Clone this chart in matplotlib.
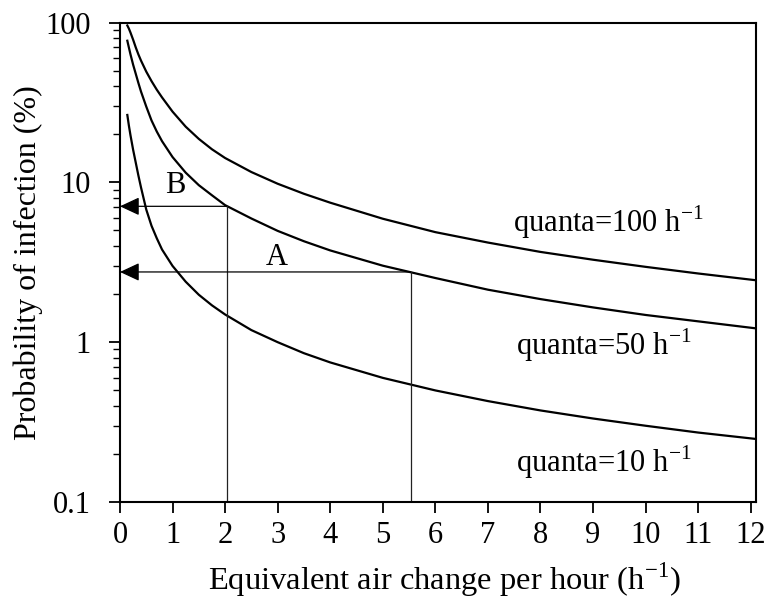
import matplotlib
matplotlib.use('Agg')
import matplotlib.pyplot as plt

plt.rcParams['font.family'] = ['Liberation Serif', 'DejaVu Serif']
plt.rcParams['mathtext.fontset'] = 'custom'
plt.rcParams['mathtext.rm'] = 'Liberation Serif'

# values (air change per hour vs infection %)
ach = [0.14, 0.17, 0.2, 0.25, 0.3, 0.35, 0.4, 0.5, 0.6, 0.7, 0.8, 1.0, 1.25,
       1.5, 1.75, 2, 2.5, 3, 3.5, 4, 5, 6, 7, 8, 9, 10, 11, 12.1]
p_q100 = [95.8, 91.5, 86.5, 78.1, 69.9, 63.2, 57.8, 49.3, 43.0, 38.0, 34.0,
          27.7, 22.3, 18.7, 16.1, 14.2, 11.6, 9.8, 8.48, 7.46, 5.92, 4.88,
          4.2, 3.67, 3.28, 2.96, 2.69, 2.44]
p_q50 = [76.9, 69.6, 63.2, 54.5, 47.8, 41.9, 37.0, 29.8, 24.4, 20.8, 18.1,
         14.4, 11.5, 9.6, 8.3, 7.2, 5.94, 4.97, 4.28, 3.75, 3.01, 2.52,
         2.13, 1.86, 1.65, 1.48, 1.35, 1.22]
p_q10 = [26.4, 22.6, 19.7, 16.0, 13.3, 11.05, 9.3, 6.76, 5.35, 4.47, 3.8,
         3.0, 2.39, 1.98, 1.70, 1.49, 1.19, 1.0, 0.853, 0.747, 0.598, 0.499,
         0.428, 0.374, 0.333, 0.30, 0.272, 0.248]

# reading examples A and B: (ach, probability)
case_a = (5.53, 2.75)
case_b = (2.03, 7.08)

fig = plt.figure(figsize=(7.72, 6.02), dpi=100)
ax = fig.add_axes([0.1554, 0.1661, 0.8239, 0.7965])

for p in (p_q100, p_q50, p_q10):
    ax.plot(ach, p, color='black', lw=1.6)

# guide lines with arrows to the y axis
for xv, yv in (case_a, case_b):
    ax.plot([xv, xv], [0.1, yv], color='#222222', lw=0.9)
    ax.annotate('', xy=(0, yv), xytext=(xv, yv),
                arrowprops=dict(arrowstyle='-|>,head_length=0.6,head_width=0.28',
                                mutation_scale=20, lw=0.9, color='black',
                                shrinkA=0, shrinkB=0))

ax.text(2.98, 3.41, 'A', fontsize=22, ha='center', va='center')
ax.text(1.05, 9.56, 'B', fontsize=22, ha='center', va='center')
ax.text(9.3, 5.6, 'quanta=100 h$^{\\mathrm{-1}}$', fontsize=22, ha='center', va='center')
ax.text(9.2, 0.96, 'quanta=50 h$^{\\mathrm{-1}}$', fontsize=22, ha='center', va='center')
ax.text(9.2, 0.178, 'quanta=10 h$^{\\mathrm{-1}}$', fontsize=22, ha='center', va='center')

ax.set_yscale('log')
ax.set_ylim(0.1, 100)
ax.set_xlim(0, 12.1)
ax.set_xticks(range(0, 13))
ax.set_yticks([0.1, 1, 10, 100])
ax.set_yticklabels(['0.1', '1', '10', '100'])
ax.tick_params(axis='both', which='major', labelsize=22, length=8, width=1.3, direction='out')
ax.tick_params(axis='x', which='major', pad=6)
ax.tick_params(axis='y', which='major', pad=13)
ax.tick_params(axis='y', which='minor', length=5, width=1.0, direction='out')
ax.tick_params(axis='x', which='minor', bottom=False)
for s in ax.spines.values():
    s.set_linewidth(1.5)

ax.set_xlabel('Equivalent air change per hour (h$^{\\mathrm{-1}}$)', fontsize=23.4, labelpad=7)
ax.xaxis.label.set_x(0.51)
ax.set_ylabel('Probability of infection (%)', fontsize=23, labelpad=2)

fig.savefig('out.png', dpi=100)
